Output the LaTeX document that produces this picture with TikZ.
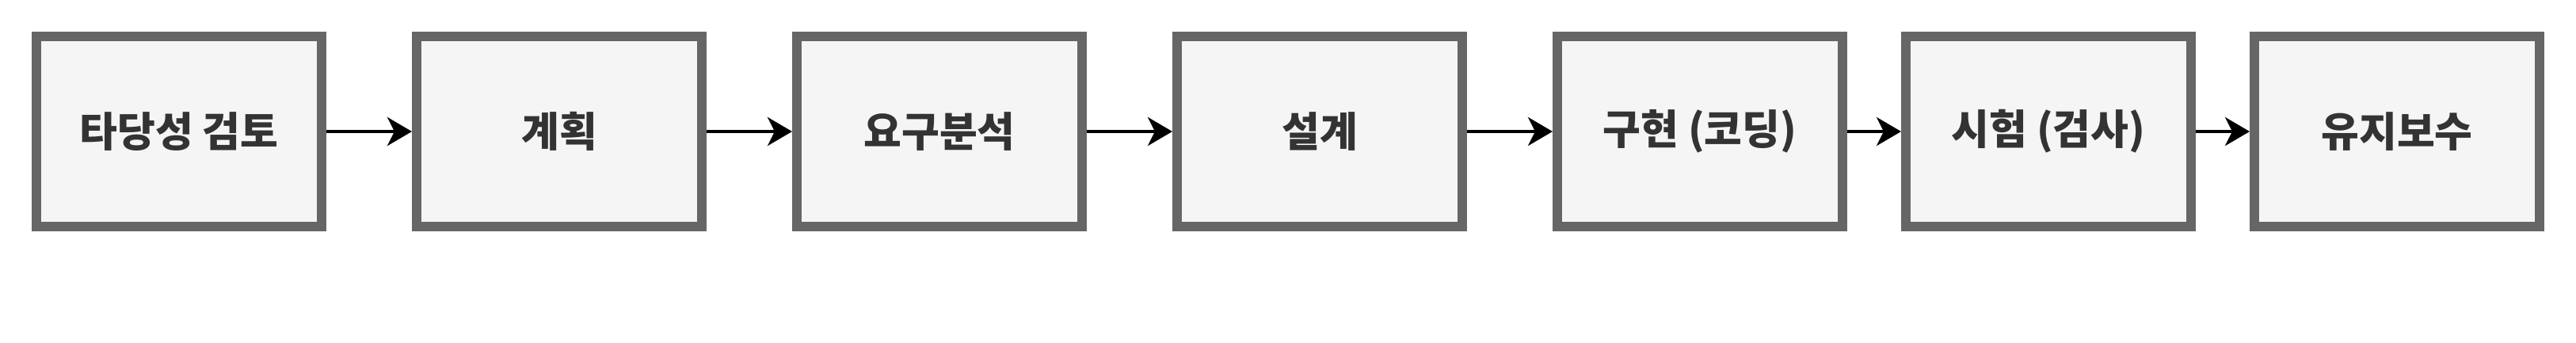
\documentclass[tikz,border=0pt]{standalone}
\usepackage{fontspec}
\usepackage{xcolor}
\usepackage{tikz}
\usetikzlibrary{arrows.meta}
\newfontfamily\krfont{Noto Sans CJK KR}
\definecolor{stageFill}{HTML}{F5F5F5}
\definecolor{stageLine}{HTML}{666666}
\definecolor{stageText}{HTML}{333333}

\begin{document}
\begin{tikzpicture}[x=1pt, y=1pt,
    stage/.style={draw=stageLine, fill=stageFill, line width=3pt,
        minimum width=90pt, minimum height=60pt, inner sep=0pt,
        font=\krfont\bfseries\fontsize{13pt}{15pt}\selectfont, text=stageText},
    flow/.style={line width=1.1pt, -{Stealth[length=7.75pt, width=9pt, inset=2.25pt]}}]
    \useasboundingbox (0,0) rectangle (813,108);
    \foreach \x/\n/\t in {56.5/review/타당성 검토, 176.5/plan/계획,
        296.5/req/요구분석, 416.5/design/설계, 536.5/impl/구현 (코딩),
        646.5/test/시험 (검사), 756.5/maint/유지보수}
        \node[stage] (\n) at (\x,66.5) {\t};
    \foreach \a/\b in {review/plan, plan/req, req/design, design/impl,
        impl/test, test/maint}
        \draw[flow] (\a) -- (\b);
\end{tikzpicture}
\end{document}
